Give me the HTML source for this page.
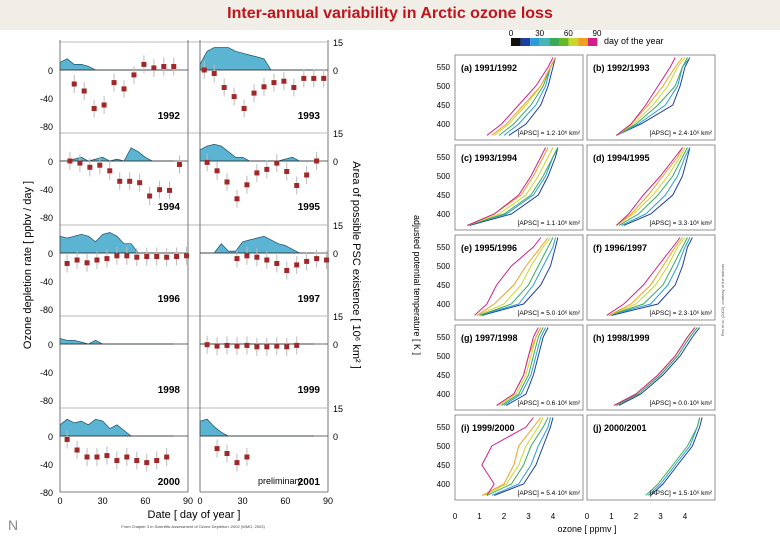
<!DOCTYPE html>
<html><head><meta charset="utf-8"><style>
body{margin:0;width:780px;height:540px;overflow:hidden;background:#fff;font-family:"Liberation Sans",sans-serif}
#band{position:absolute;left:0;top:0;width:780px;height:30px;background:#f1eee8}
#title{position:absolute;left:0;top:5px;width:780px;text-align:center;color:#c0141a;font-weight:bold;font-size:16px}
svg{position:absolute;left:0;top:0}
</style></head><body>
<div id="band"></div>
<div id="title">Inter-annual variability in Arctic ozone loss</div>
<svg id="s" width="780" height="540"></svg>
<script>
// ---- left figure data ----
const years=["1992","1993","1994","1995","1996","1997","1998","1999","2000","2001"];
const lossDays=[[10,17,24,31,38,45,52,59,66,73,80],[3,10,17,24,31,38,45,52,59,66,73,80,87],[7,14,21,28,35,42,49,56,63,70,77,84],[5,12,19,26,33,40,47,54,61,68,75,82],[5,12,19,26,33,40,47,54,61,68,75,82,89],[26,33,40,47,54,61,68,75,82,89],[],[5,12,19,26,33,40,47,54,61,68],[5,12,19,26,33,40,47,54,61,68,75],[12,19,26,33]];
const lossRates=[[-20,-30,-55,-50,-18,-27,-7,8,3,5,5],[0,-5,-25,-38,-55,-33,-24,-18,-16,-25,-12,-12,-12],[0,-3,-9,-6,-14,-29,-29,-31,-50,-41,-42,-5],[-2,-14,-30,-54,-34,-17,-12,-3,-15,-35,-20,0],[-15,-10,-14,-10,-8,-4,-4,-6,-5,-5,-6,-5,-4],[-8,-4,-6,-10,-15,-25,-17,-12,-8,-10],[],[-1,-3,-2,-3,-2,-4,-4,-3,-4,-2],[-5,-20,-30,-30,-28,-35,-30,-35,-38,-35,-30],[-18,-25,-38,-30]];
const pscDays=[0,5,10,15,20,25,30,35,40,45,50,55,60,65,70,75,80];
const pscArea=[[4,6,3,3,2,0,0,0,0,0,0,0,0,0,0,0,0],[3,10,12,12,12,10,9,8,7,6,0,0,0,0,0,0,0],[0,0,1,2,0,1,2,0,1,0,7,5,2,0,0,0,0],[6,8,9,8,5,2,2,0,0,0,0,0,1,2,0,0,0],[9,8,9,10,9,6,10,11,9,5,5,0,0,0,0,0,0],[0,0,0,5,1,1,6,7,8,9,7,5,4,2,0,0,0],[3,2,2,1,0,2,0,0,0,0,0,0,0,0,0,0,0],[0,0,0,0,0,0,0,0,0,0,0,0,0,0,0,0,0],[6,9,7,8,6,9,8,4,6,3,0,0,0,0,0,0,0],[8,9,5,2,0,0,0,0,0,0,0,0,0,0,0,0,0]];
// ---- right figure data ----
const panelLabels=["(a) 1991/1992","(b) 1992/1993","(c) 1993/1994","(d) 1994/1995","(e) 1995/1996","(f) 1996/1997","(g) 1997/1998","(h) 1998/1999","(i) 1999/2000","(j) 2000/2001"];
const apsc=["1.2","2.4","1.1","3.3","5.0","2.3","0.6","0.0","5.4","1.5"];
const thetaLevels=[370,400,450,500,550,575];
const curveColors=["#1c3fa0","#2a9dd8","#3aaa5a","#c8d82a","#f0a020","#d0208a"];
const profiles=[
[[2.2,2.9,3.5,3.8,4.0,4.1],[2.0,2.6,3.3,3.7,3.9,4.1],[1.8,2.4,3.1,3.6,3.9,4.1],[1.6,2.2,2.9,3.5,3.9,4.1],[1.5,2.1,2.8,3.5,3.9,4.1],[1.3,1.9,2.6,3.3,3.8,4.0]],
[[1.2,2.2,3.5,3.8,4.0,4.2],[1.2,2.1,3.2,3.7,3.9,4.2],[1.2,2.0,2.9,3.6,3.9,4.1],[1.2,1.9,2.7,3.3,3.7,4.0],[1.2,1.8,2.5,3.1,3.6,3.9],[1.2,1.8,2.4,2.9,3.4,3.6]],
[[0.6,2.3,3.4,3.8,4.1,4.2],[0.5,2.1,3.2,3.7,4.0,4.2],[0.5,2.0,3.1,3.6,4.0,4.2],[0.5,1.8,2.9,3.4,3.8,4.0],[0.5,1.6,2.7,3.2,3.6,3.8],[0.5,1.6,2.6,3.1,3.5,3.7]],
[[1.5,2.6,3.5,3.9,4.1,4.2],[1.4,2.4,3.2,3.7,4.0,4.2],[1.3,2.1,2.9,3.5,3.9,4.1],[1.2,1.9,2.7,3.3,3.8,4.0],[1.2,1.8,2.5,3.1,3.7,3.9],[1.2,1.7,2.3,3.0,3.6,3.9]],
[[1.1,2.8,3.5,3.9,4.1,4.2],[1.0,2.6,3.2,3.6,4.0,4.1],[1.0,2.3,3.0,3.4,3.8,4.0],[0.9,2.0,2.7,3.1,3.6,3.9],[0.9,1.6,2.4,2.9,3.5,3.8],[0.8,1.3,1.7,2.3,3.2,3.5]],
[[1.0,2.9,3.6,3.9,4.1,4.3],[0.9,2.6,3.3,3.7,4.0,4.2],[0.9,2.3,3.1,3.5,3.9,4.1],[0.9,2.0,2.8,3.3,3.7,4.0],[0.9,1.8,2.6,3.1,3.6,3.9],[0.8,1.5,2.3,2.9,3.5,3.8]],
[[2.1,2.9,3.2,3.4,3.6,3.8],[2.0,2.7,3.1,3.3,3.5,3.7],[1.9,2.6,3.0,3.2,3.4,3.6],[1.8,2.5,2.9,3.1,3.3,3.5],[1.7,2.4,2.8,3.0,3.3,3.5],[1.7,2.4,2.8,3.0,3.2,3.4]],
[[1.3,2.2,3.1,3.8,4.3,4.6],[1.2,2.1,3.0,3.7,4.2,4.5],[1.2,2.1,3.0,3.7,4.2,4.5],[1.1,2.0,2.9,3.6,4.1,4.4],[1.1,2.0,2.9,3.6,4.1,4.4],[1.1,2.0,2.9,3.6,4.1,4.4]],
[[1.6,2.8,3.3,3.6,3.9,4.0],[1.5,2.6,3.1,3.4,3.8,3.9],[1.3,2.3,2.8,3.1,3.6,3.8],[1.2,2.1,2.6,2.9,3.4,3.6],[1.1,2.0,2.4,2.6,3.2,3.5],[1.3,1.6,1.1,1.5,2.9,3.2]],
[[2.6,3.1,3.7,4.3,4.6,4.7],[2.5,3.0,3.6,4.2,4.5,4.6],[2.4,2.9,3.5,4.1,4.5,4.6],[],[],[]]
];
const S=document.getElementById('s');const NS="http://www.w3.org/2000/svg";
function el(t,a,txt){const e=document.createElementNS(NS,t);for(const k in a)e.setAttribute(k,a[k]);if(txt!==undefined)e.textContent=txt;S.appendChild(e);return e;}
// left figure
const colX=[60,200],colW=128,rowTop=[42,133,225,316,408];
function dx(c,d){return colX[c]+d/90*colW;}
for(let i=0;i<10;i++){
 const c=i%2,r=Math.floor(i/2),t=rowTop[r],z=t+28;
 const ry=v=>z-v/80*56, ay=v=>z-v/15*28;
 let p="M"+dx(c,pscDays[0])+","+z;
 pscDays.forEach((d,k)=>p+=" L"+dx(c,d).toFixed(1)+","+ay(pscArea[i][k]).toFixed(1));
 p+=" L"+dx(c,pscDays[pscDays.length-1])+","+z+"Z";
 const a=el('path',{d:p,fill:'#5ab4d2',stroke:'#1d4f6a','stroke-width':0.7});
 
 
 el('line',{x1:colX[c],x2:colX[c]+colW,y1:z,y2:z,stroke:'#333','stroke-width':0.8});
 lossDays[i].forEach((d,k)=>{
  const v=lossRates[i][k];if(v===undefined)return;
  const y=ry(v);
  el('line',{x1:dx(c,d),x2:dx(c,d),y1:y-9,y2:y+9,stroke:'#bbb','stroke-width':1});
  const m=el('rect',{x:dx(c,d)-2.5,y:y-2.5,width:5,height:5,fill:'#a02828'});
  
  
 });
 el('text',{x:colX[c]+colW-8,y:t+77,'text-anchor':'end','font-size':10,'font-weight':'bold'},years[i]);
 if(c==0){[[0,'0'],[-40,'-40'],[-80,'-80']].forEach(q=>el('text',{x:53,y:ry(q[0])+4,'text-anchor':'end','font-size':9},q[1]));}
 else{el('text',{x:333,y:t+4,'font-size':9},'15');el('text',{x:333,y:z+4,'font-size':9},'0');}
}
el('text',{x:280,y:484,'text-anchor':'middle','font-size':9},'preliminary');
[0,1].forEach(c=>{el('line',{x1:colX[c],x2:colX[c],y1:40,y2:492,stroke:'#555','stroke-width':0.8});el('line',{x1:colX[c]+colW,x2:colX[c]+colW,y1:40,y2:492,stroke:'#555','stroke-width':0.8});
 el('line',{x1:colX[c],x2:colX[c]+colW,y1:492,y2:492,stroke:'#555','stroke-width':0.8});
 [0,30,60,90].forEach(d=>el('text',{x:dx(c,d),y:504,'text-anchor':'middle','font-size':9},String(d)));});
rowTop.forEach(t=>el('line',{x1:60,x2:327,y1:t,y2:t,stroke:'#777','stroke-width':0.6}));
el('text',{x:194,y:518,'text-anchor':'middle','font-size':11},'Date [ day of year ]');
el('text',{x:0,y:0,'font-size':11,transform:'translate(31,265) rotate(-90)','text-anchor':'middle'},'Ozone depletion rate [ ppbv / day ]');
el('text',{x:0,y:0,'font-size':11,transform:'translate(353,265) rotate(90)','text-anchor':'middle'},'Area of possible PSC existence [ 10⁶ km² ]');
el('text',{x:193,y:528,'text-anchor':'middle','font-size':4,fill:'#444'},'From Chapter 3 in Scientific Assessment of Ozone Depletion: 2002 (WMO, 2003)');
el('text',{x:8,y:530,'font-size':14,fill:'#888'},'N');
// right figure
const pX=[455,587],pW=128,pTop=[55,145,235,325,415],pH=85;
function ox(c,o){return pX[c]+o/4*98;}
function ty(r,th){return pTop[r]+12+(550-th)*57/150;}
for(let i=0;i<10;i++){
 const c=i%2,r=Math.floor(i/2);
 el('rect',{x:pX[c],y:pTop[r],width:pW,height:pH,fill:'none',stroke:'#666','stroke-width':0.7});
 profiles[i].forEach((pr,k)=>{if(!pr.length)return;
  let d="";pr.forEach((o,j)=>{let th=thetaLevels[j];d+=(j?" L":"M")+ox(c,o).toFixed(1)+","+Math.max(pTop[r],ty(r,th)).toFixed(1);});
  const l=el('path',{d:d,fill:'none',stroke:curveColors[k],'stroke-width':1});
  
  });
 el('text',{x:pX[c]+6,y:pTop[r]+16,'font-size':9,'font-weight':'bold'},panelLabels[i]);
 el('text',{x:pX[c]+pW-3,y:pTop[r]+pH-5,'text-anchor':'end','font-size':6.5},'[A'+'PSC] = '+apsc[i]+'·10⁶ km²');
 if(c==0)[400,450,500,550].forEach(v=>el('text',{x:450,y:ty(r,v)+3,'text-anchor':'end','font-size':8},String(v)));
}
[0,1].forEach(c=>[0,1,2,3,4].forEach(v=>el('text',{x:ox(c,v),y:519,'text-anchor':'middle','font-size':8},String(v))));
el('text',{x:587,y:532,'text-anchor':'middle','font-size':9},'ozone [ ppmv ]');
el('text',{x:0,y:0,'font-size':9,transform:'translate(414,285) rotate(90)','text-anchor':'middle'},'adjusted potential temperature [ K ]');
// colorbar
const cb=["#111","#1c3fa0","#2a9dd8","#46b4b8","#3aaa5a","#66b828","#c8d82a","#f0a020","#d0208a"];
cb.forEach((col,k)=>el('rect',{x:511+k*9.6,y:38,width:9.6,height:8,fill:col}));
[[0,'0'],[30,'30'],[60,'60'],[90,'90']].forEach(q=>el('text',{x:511+q[0]/90*86,y:36,'text-anchor':'middle','font-size':8},q[1]));
el('text',{x:604,y:44,'font-size':9},'day of the year');
el('text',{x:0,y:0,'font-size':4,fill:'#555',transform:'translate(724,300) rotate(-90)','text-anchor':'middle'},'Rex et al. (2002), courtesy of the authors');
</script>
</body></html>
